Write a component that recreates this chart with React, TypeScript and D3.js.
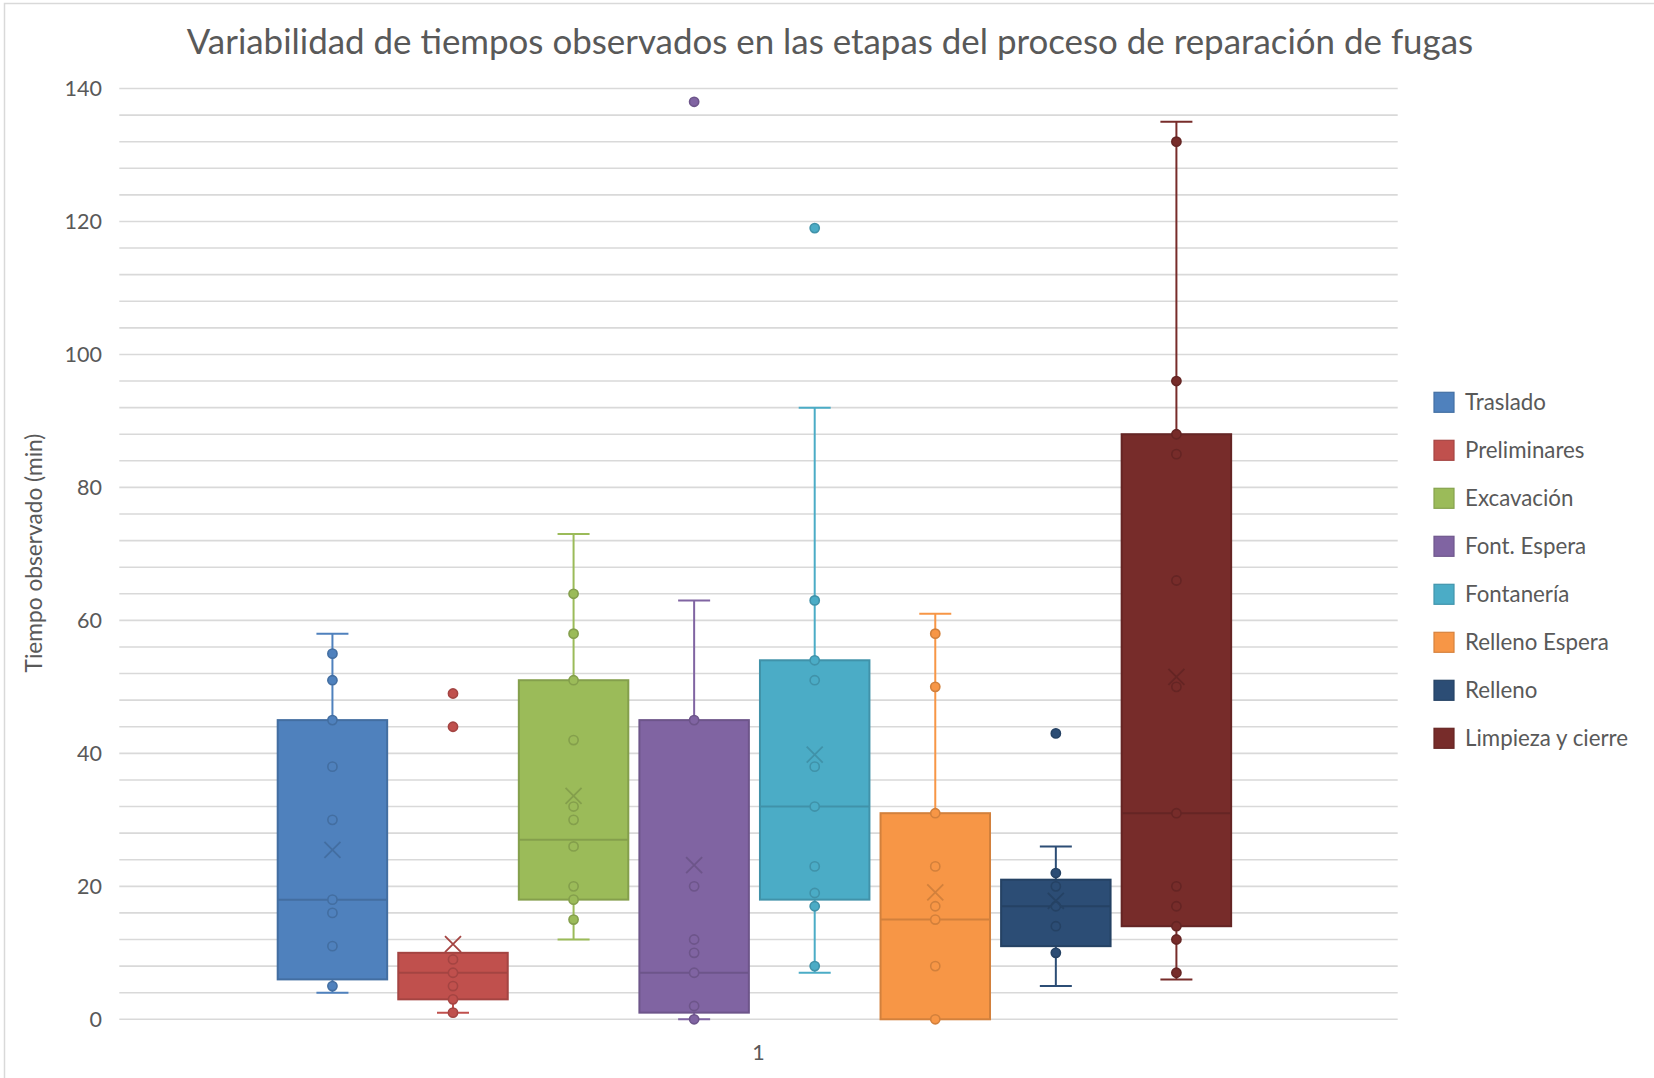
import React from 'react'
import * as d3 from 'd3'

// chart data
const categories = ['1']
const seriesNames = ['Traslado', 'Preliminares', 'Excavación', 'Font. Espera', 'Fontanería', 'Relleno Espera', 'Relleno', 'Limpieza y cierre']
const seriesColors = ['#4F81BD', '#C0504D', '#9BBB59', '#8064A2', '#4BACC6', '#F79646', '#2C4D75', '#772C2A']
const whiskerLow = [4, 1, 12, 0, 7, 0, 5, 6]
const q1Values = [6, 3, 18, 1, 18, 0, 11, 14]
const medianValues = [18, 7, 27, 7, 32, 15, 17, 31]
const q3Values = [45, 10, 51, 45, 54, 31, 21, 88]
const whiskerHigh = [58, 10, 73, 63, 92, 61, 26, 135]
const meanValues = [25.5, 11.3, 33.6, 23.2, 39.8, 19.1, 17.8, 51.5]
const innerPoints = [
    [5, 11, 16, 18, 30, 38, 45, 51, 55],
    [1, 3, 5, 7, 9],
    [15, 18, 20, 26, 30, 32, 42, 51, 58, 64],
    [0, 2, 7, 10, 12, 20, 45],
    [8, 17, 19, 23, 32, 38, 51, 54, 63],
    [0, 8, 15, 17, 23, 31, 50, 58],
    [10, 14, 17, 20, 22],
    [7, 12, 14, 17, 20, 31, 50, 66, 85, 88, 96, 132],
]
const outlierPoints = [[], [44, 49], [], [138], [119], [], [43], []]
const yTicks = [0, 20, 40, 60, 80, 100, 120, 140]

const title = 'Variabilidad de tiempos observados en las etapas del proceso de reparación de fugas'
const yTitle = 'Tiempo observado (min)'

const W = 1654
const H = 1078
const font = 'Lato, "Open Sans", sans-serif'
const textColor = '#595959'

export default function App() {
    const left = 119.3, right = 1397.7, top = 88.5, bottom = 1019.3

    const y = d3.scaleLinear().domain([0, 140]).range([bottom, top])
    const x0 = d3.scaleBand().domain(categories).range([left, right])
        .paddingInner(0).paddingOuter(0.1627).align(0.487)
    const x1 = d3.scaleBand().domain(seriesNames).range([0, x0.bandwidth()])
        .paddingInner(0.092).paddingOuter(0.046)

    const minorTicks = d3.range(0, 141, 4)
    const capHalf = 16
    const xHalf = 8

    return (
        <div style={{ position: 'absolute', left: 0, top: 0, width: W, height: H, overflow: 'hidden', background: '#fff' }}>
            <svg width={W} height={H} style={{ display: 'block' }}>
                <rect x={0} y={0} width={W} height={H} fill="#fff" />
                <rect x={4.5} y={3.5} width={W + 20} height={H + 20} fill="none" stroke="#D9D9D9" strokeWidth={1.5} />

                <text x={830} y={54} textAnchor="middle" fontFamily={font} fontSize={34.9} fill={textColor}>{title}</text>

                {/* gridlines */}
                {minorTicks.map(t => (
                    <line key={t} x1={left} x2={right} y1={y(t)} y2={y(t)} stroke="#D9D9D9" strokeWidth={1.6} />
                ))}

                {/* y tick labels */}
                {yTicks.map(t => (
                    <text key={t} x={102} y={y(t) + 7.5} textAnchor="end" fontFamily={font} fontSize={21.5} fill={textColor}>{t}</text>
                ))}

                <text transform={`translate(42,553) rotate(-90)`} textAnchor="middle" fontFamily={font} fontSize={22.7} fill={textColor}>{yTitle}</text>

                {/* category label */}
                {categories.map(c => (
                    <text key={c} x={x0(c)! + x0.bandwidth() / 2 + 4} y={1060} textAnchor="middle" fontFamily={font} fontSize={21.5} fill={textColor}>{c}</text>
                ))}

                {/* boxes */}
                {seriesNames.map((name, i) => {
                    const color = seriesColors[i]
                    const dark = d3.color(color)!.darker(0.45).formatHex()
                    const bx = x0(categories[0])! + x1(name)!
                    const bw = x1.bandwidth()
                    const cx = bx + bw / 2
                    const yq1 = y(q1Values[i]), yq3 = y(q3Values[i])
                    const ym = y(meanValues[i])
                    return (
                        <g key={name}>
                            {whiskerHigh[i] > q3Values[i] && (
                                <g>
                                    <line x1={cx} x2={cx} y1={yq3} y2={y(whiskerHigh[i])} stroke={color} strokeWidth={2} />
                                    <line x1={cx - capHalf} x2={cx + capHalf} y1={y(whiskerHigh[i])} y2={y(whiskerHigh[i])} stroke={color} strokeWidth={2} />
                                </g>
                            )}
                            {whiskerLow[i] < q1Values[i] && (
                                <g>
                                    <line x1={cx} x2={cx} y1={yq1} y2={y(whiskerLow[i])} stroke={color} strokeWidth={2} />
                                    <line x1={cx - capHalf} x2={cx + capHalf} y1={y(whiskerLow[i])} y2={y(whiskerLow[i])} stroke={color} strokeWidth={2} />
                                </g>
                            )}
                            <rect x={bx} y={yq3} width={bw} height={yq1 - yq3} fill={color} stroke={dark} strokeWidth={2} />
                            <line x1={bx} x2={bx + bw} y1={y(medianValues[i])} y2={y(medianValues[i])} stroke={dark} strokeWidth={2} />
                            {innerPoints[i].concat(outlierPoints[i]).map((v, j) => (
                                <circle key={j} cx={cx} cy={y(v)} r={4.6} fill={color} stroke={dark} strokeWidth={1.6} />
                            ))}
                            <path d={`M${cx - xHalf},${ym - xHalf}L${cx + xHalf},${ym + xHalf}M${cx - xHalf},${ym + xHalf}L${cx + xHalf},${ym - xHalf}`}
                                stroke={dark} strokeWidth={1.8} fill="none" />
                        </g>
                    )
                })}

                {/* legend */}
                {seriesNames.map((name, i) => {
                    const ly = 402.3 + i * 48
                    const color = seriesColors[i]
                    return (
                        <g key={name}>
                            <rect x={1434} y={ly - 10} width={20} height={20} fill={color} stroke={d3.color(color)!.darker(0.4).formatHex()} strokeWidth={1.2} />
                            <text x={1465} y={ly + 7.8} fontFamily={font} fontSize={22.3} fill={textColor}>{name}</text>
                        </g>
                    )
                })}
            </svg>
        </div>
    )
}
